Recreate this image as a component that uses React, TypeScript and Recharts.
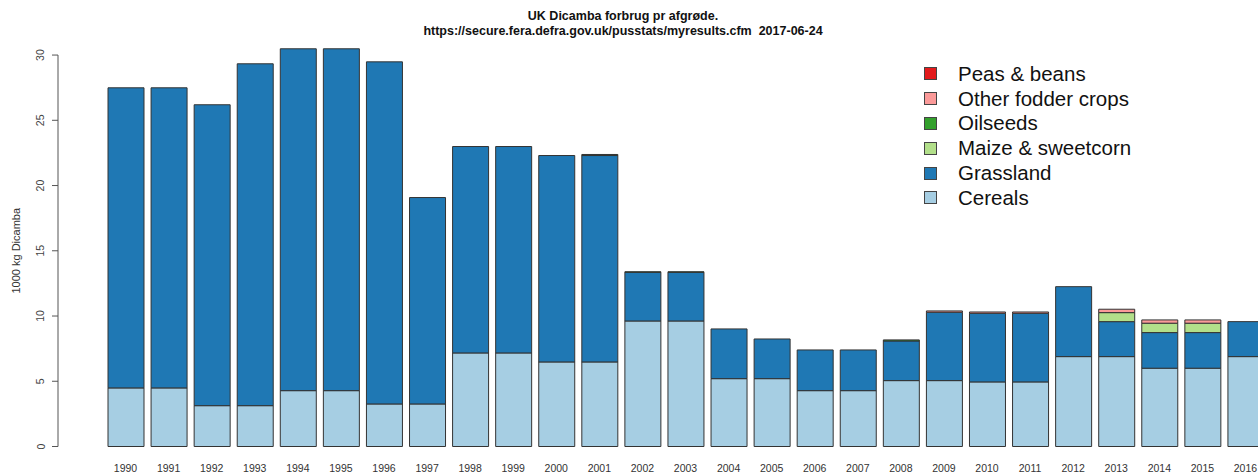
import React from 'react';
import { BarChart, Bar, XAxis, YAxis, Legend } from 'recharts';

// UK Dicamba usage per crop, 1000 kg
const years = [
    '1990', '1991', '1992', '1993', '1994', '1995', '1996', '1997', '1998',
    '1999', '2000', '2001', '2002', '2003', '2004', '2005', '2006', '2007',
    '2008', '2009', '2010', '2011', '2012', '2013', '2014', '2015', '2016',
];
const cereals = [
    4.49, 4.49, 3.13, 3.13, 4.28, 4.28, 3.26, 3.26, 7.17,
    7.17, 6.48, 6.48, 9.62, 9.62, 5.2, 5.2, 4.28, 4.28,
    5.05, 5.05, 4.95, 4.95, 6.89, 6.89, 6.0, 6.0, 6.89,
];
const grassland = [
    23.0, 23.0, 23.06, 26.2, 26.2, 26.2, 26.22, 15.82, 15.82,
    15.82, 15.82, 15.82, 3.73, 3.73, 3.81, 3.04, 3.12, 3.12,
    3.04, 5.24, 5.26, 5.26, 5.36, 2.68, 2.73, 2.73, 2.68,
];
const maize = [
    0, 0, 0, 0, 0, 0, 0, 0, 0,
    0, 0, 0, 0, 0, 0, 0, 0, 0,
    0, 0, 0, 0, 0, 0.69, 0.72, 0.72, 0,
];
const oilseeds = [
    0, 0, 0, 0, 0, 0, 0, 0, 0,
    0, 0, 0.08, 0.04, 0.04, 0, 0, 0, 0,
    0.08, 0, 0, 0, 0, 0, 0, 0, 0,
];
const otherFodder = [
    0, 0, 0, 0, 0, 0, 0, 0, 0,
    0, 0, 0, 0, 0, 0, 0, 0, 0,
    0, 0.1, 0.1, 0.1, 0, 0.26, 0.25, 0.25, 0,
];
const peasBeans = [
    0, 0, 0, 0, 0, 0, 0, 0, 0,
    0, 0, 0, 0, 0, 0, 0, 0, 0,
    0, 0, 0, 0, 0, 0, 0, 0, 0,
];
const yTicks = [0, 5, 10, 15, 20, 25, 30];

// bottom-up stack order
const SERIES = [
    { key: 'cereals', name: 'Cereals', color: '#A6CEE3', values: cereals },
    { key: 'grassland', name: 'Grassland', color: '#1F78B4', values: grassland },
    { key: 'maize', name: 'Maize & sweetcorn', color: '#B2DF8A', values: maize },
    { key: 'oilseeds', name: 'Oilseeds', color: '#33A02C', values: oilseeds },
    { key: 'otherFodder', name: 'Other fodder crops', color: '#FB9A99', values: otherFodder },
    { key: 'peasBeans', name: 'Peas & beans', color: '#E31A1C', values: peasBeans },
];

const data = years.map((year, i) => {
    const row: Record<string, number | string> = { year };
    SERIES.forEach(s => { row[s.key] = s.values[i]; });
    return row;
});

// layout
const CHART_W = 1267;
const CHART_H = 475;
const TOP = 42;
const XAXIS_H = 28.5;
const Y_W = 58;
const Y_MAX = 31;
const PLOT_H = CHART_H - TOP - XAXIS_H;
const UNIT = PLOT_H / Y_MAX;
const FONT = '"Liberation Sans", Arial, sans-serif';

// R-style y tick: rotated label, short tick, axis line only from 0 to 30
const YTick = (props: any) => {
    const { x, y, payload } = props;
    const tx = x - 13.5;
    return (
        <g>
            {payload.value === 0 && (
                <line x1={x} x2={x} y1={y} y2={y - 30 * UNIT} stroke="#555" />
            )}
            <line x1={x - 6} x2={x} y1={y} y2={y} stroke="#555" />
            <text
                x={tx}
                y={y}
                transform={`rotate(-90, ${tx}, ${y})`}
                textAnchor="middle"
                fontSize={10.5}
                fontFamily={FONT}
                fill="#444"
            >
                {payload.value}
            </text>
        </g>
    );
};

const YTitle = (props: any) => {
    const vb = props.viewBox || { x: 0, y: TOP, width: Y_W, height: PLOT_H };
    const cx = vb.x + 20;
    const cy = vb.y + vb.height - 15 * UNIT;
    return (
        <text
            x={cx}
            y={cy}
            transform={`rotate(-90, ${cx}, ${cy})`}
            textAnchor="middle"
            fontSize={11}
            fontFamily={FONT}
            fill="#333"
        >
            1000 kg Dicamba
        </text>
    );
};

const LegendBox = () => (
    <div style={{ fontFamily: FONT }}>
        {[...SERIES].reverse().map(s => (
            <div key={s.key} style={{ display: 'flex', alignItems: 'center', height: 24.8 }}>
                <span
                    style={{
                        display: 'inline-block',
                        width: 13,
                        height: 13,
                        boxSizing: 'border-box',
                        background: s.color,
                        border: '1px solid #444',
                        marginRight: 21,
                    }}
                />
                <span style={{ fontSize: 20.5, color: '#111', whiteSpace: 'nowrap' }}>{s.name}</span>
            </div>
        ))}
    </div>
);

export default function App() {
    return (
        <div
            style={{
                position: 'fixed',
                left: 0,
                top: 0,
                width: 1258,
                height: 475,
                overflow: 'hidden',
                background: '#fff',
                fontFamily: FONT,
            }}
        >
            <div
                style={{
                    position: 'absolute',
                    left: 0,
                    top: 9,
                    width: 1246,
                    textAlign: 'center',
                    fontWeight: 'bold',
                    fontSize: 12.5,
                    lineHeight: '15px',
                    color: '#111',
                }}
            >
                <div>UK Dicamba forbrug pr afgrøde.</div>
                <div style={{ whiteSpace: 'pre' }}>https://secure.fera.defra.gov.uk/pusstats/myresults.cfm  2017-06-24</div>
            </div>
            <div style={{ position: 'absolute', left: 0, top: 0 }}>
                <BarChart
                    width={CHART_W}
                    height={CHART_H}
                    data={data}
                    margin={{ top: TOP, right: 0, bottom: 0, left: 0 }}
                    barSize={36}
                >
                    <XAxis
                        dataKey="year"
                        height={XAXIS_H}
                        interval={0}
                        axisLine={false}
                        tickLine={false}
                        tickSize={0}
                        tickMargin={18.5}
                        padding={{ left: 46, right: 0 }}
                        tick={{ fontSize: 10.5, fill: '#333', fontFamily: FONT }}
                    />
                    <YAxis
                        width={Y_W}
                        domain={[0, Y_MAX]}
                        ticks={yTicks}
                        interval={0}
                        axisLine={false}
                        tickLine={false}
                        tickSize={0}
                        tickMargin={0}
                        tick={<YTick />}
                        label={<YTitle />}
                    />
                    <Legend
                        layout="vertical"
                        align="center"
                        verticalAlign="middle"
                        content={<LegendBox />}
                        wrapperStyle={{ top: 61.5, left: 924, width: 280 }}
                    />
                    {SERIES.map(s => (
                        <Bar
                            key={s.key}
                            dataKey={s.key}
                            name={s.name}
                            stackId="a"
                            fill={s.color}
                            stroke="#333"
                            strokeWidth={1}
                            isAnimationActive={false}
                        />
                    ))}
                </BarChart>
            </div>
        </div>
    );
}
